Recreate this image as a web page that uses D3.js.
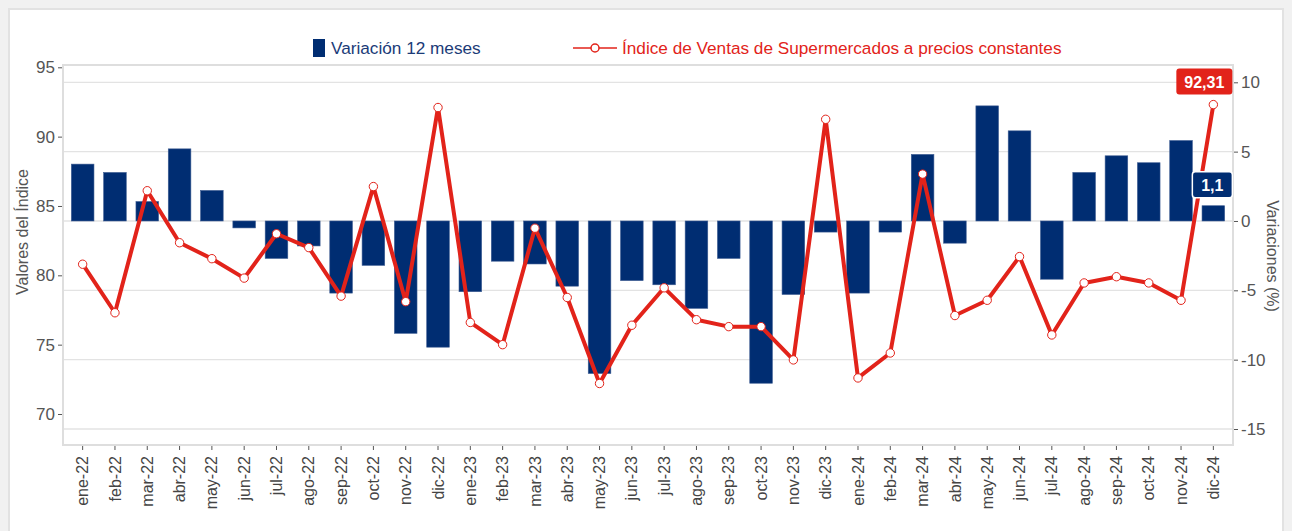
<!DOCTYPE html>
<html>
<head>
<meta charset="utf-8">
<script src="https://cdn.jsdelivr.net/npm/d3@7"></script>
<style>
  body { margin: 0; background: #f1f1f1; }
  svg { display: block; font-family: "Liberation Sans", Arial, sans-serif; }
  .axis text { fill: #555; font-size: 17px; }
  .axis path { display: none; }
  .axis line { stroke: #555; }
  .xaxis text { fill: #444; font-size: 16px; }
</style>
</head>
<body>
<svg width="1292" height="531"></svg>
<script>
var months = ["ene-22","feb-22","mar-22","abr-22","may-22","jun-22","jul-22","ago-22","sep-22","oct-22","nov-22","dic-22",
  "ene-23","feb-23","mar-23","abr-23","may-23","jun-23","jul-23","ago-23","sep-23","oct-23","nov-23","dic-23",
  "ene-24","feb-24","mar-24","abr-24","may-24","jun-24","jul-24","ago-24","sep-24","oct-24","nov-24","dic-24"];

// variación 12 meses (%)
var variacion = [4.1, 3.5, 1.4, 5.2, 2.2, -0.5, -2.7, -1.8, -5.2, -3.2, -8.1, -9.1,
  -5.1, -2.9, -3.1, -4.7, -11.0, -4.3, -4.6, -6.3, -2.7, -11.7, -5.3, -0.8,
  -5.2, -0.8, 4.8, -1.6, 8.3, 6.5, -4.2, 3.5, 4.7, 4.2, 5.8, 1.1];

// índice de ventas a precios constantes
var indice = [80.8, 77.3, 86.1, 82.35, 81.2, 79.8, 83.0, 82.0, 78.5, 86.4, 78.1, 92.1,
  76.6, 75.0, 83.4, 78.4, 72.2, 76.4, 79.1, 76.8, 76.3, 76.3, 73.9, 91.25,
  72.6, 74.4, 87.3, 77.1, 78.2, 81.35, 75.7, 79.45, 79.9, 79.45, 78.2, 92.31];

var leftTicks = [70, 75, 80, 85, 90, 95];
var rightTicks = [-15, -10, -5, 0, 5, 10];

var svg = d3.select("svg");
var blue = "#002d72";
var red = "#e2231a";

// panel blanco
svg.append("rect")
    .attr("x", 9).attr("y", 9)
    .attr("width", 1274).attr("height", 540)
    .attr("fill", "#fff")
    .attr("stroke", "#e2e2e2")
    .attr("stroke-width", 2);

var plot = { left: 63, right: 1233, top: 65, bottom: 445 };

var x = d3.scaleBand().domain(months).range([66.5, 1229.5])
    .paddingInner(0.3).paddingOuter(0.15);
var yLeft = d3.scaleLinear().domain([70, 95]).range([414, 67.3]);
var yRight = d3.scaleLinear().domain([-15, 10]).range([429, 82.3]);

// grid
svg.append("g").selectAll("line")
    .data(rightTicks)
    .enter()
    .append("line")
    .attr("x1", plot.left).attr("x2", plot.right)
    .attr("y1", (d) => yRight(d)).attr("y2", (d) => yRight(d))
    .attr("stroke", "#e3e3e3")
    .attr("stroke-width", 1.3);

// frame
svg.append("rect")
    .attr("x", plot.left).attr("y", plot.top)
    .attr("width", plot.right - plot.left)
    .attr("height", plot.bottom - plot.top)
    .attr("fill", "none")
    .attr("stroke", "#dedede")
    .attr("stroke-width", 2);

// bars
svg.append("g").selectAll("rect")
    .data(variacion)
    .enter()
    .append("rect")
    .attr("x", (d, i) => x(months[i]))
    .attr("y", (d) => yRight(Math.max(0, d)))
    .attr("width", x.bandwidth())
    .attr("height", (d) => Math.abs(yRight(d) - yRight(0)))
    .attr("fill", blue)
    .attr("stroke", "#3d5c92")
    .attr("stroke-width", 0.6);

// line
var line = d3.line()
    .x((d, i) => x(months[i]) + x.bandwidth() / 2)
    .y((d) => yLeft(d));

svg.append("path")
    .datum(indice)
    .attr("d", line)
    .attr("fill", "none")
    .attr("stroke", red)
    .attr("stroke-width", 4)
    .attr("stroke-linejoin", "round");

svg.append("g").selectAll("circle")
    .data(indice)
    .enter()
    .append("circle")
    .attr("cx", (d, i) => x(months[i]) + x.bandwidth() / 2)
    .attr("cy", (d) => yLeft(d))
    .attr("r", 4.2)
    .attr("fill", "#fff")
    .attr("stroke", red)
    .attr("stroke-width", 1);

// axes
svg.append("g")
    .attr("class", "axis")
    .attr("transform", "translate(" + (plot.left - 1) + ",0)")
    .call(d3.axisLeft(yLeft).tickValues(leftTicks).tickSize(4).tickPadding(3));

svg.append("g")
    .attr("class", "axis")
    .attr("transform", "translate(" + (plot.right + 1) + ",0)")
    .call(d3.axisRight(yRight).tickValues(rightTicks).tickSize(4).tickPadding(3)
        .tickFormat((d) => d < 0 ? "-" + Math.abs(d) : d));

var xAxis = svg.append("g")
    .attr("class", "axis xaxis")
    .attr("transform", "translate(0," + (plot.bottom + 1) + ")")
    .call(d3.axisBottom(x).tickSize(4));

xAxis.selectAll("text")
    .attr("transform", "rotate(-90)")
    .attr("text-anchor", "end")
    .attr("x", -10)
    .attr("y", 0)
    .attr("dy", "0.35em");

// axis titles
svg.append("text")
    .attr("transform", "translate(28,232) rotate(-90)")
    .attr("text-anchor", "middle")
    .attr("fill", "#555")
    .attr("font-size", 16)
    .text("Valores del Índice");

svg.append("text")
    .attr("transform", "translate(1267,256) rotate(90)")
    .attr("text-anchor", "middle")
    .attr("fill", "#555")
    .attr("font-size", 16)
    .text("Variaciones (%)");

// legend
svg.append("rect")
    .attr("x", 313).attr("y", 39)
    .attr("width", 12).attr("height", 18)
    .attr("fill", blue);
svg.append("text")
    .attr("x", 331).attr("y", 54)
    .attr("fill", "#1b3b78")
    .attr("font-size", 17.2)
    .text("Variación 12 meses");

svg.append("line")
    .attr("x1", 573).attr("x2", 617)
    .attr("y1", 48).attr("y2", 48)
    .attr("stroke", red).attr("stroke-width", 1.5);
svg.append("circle")
    .attr("cx", 595).attr("cy", 48).attr("r", 4)
    .attr("fill", "#fff").attr("stroke", red).attr("stroke-width", 1.5);
svg.append("text")
    .attr("x", 622).attr("y", 54)
    .attr("fill", red)
    .attr("font-size", 17.2)
    .text("Índice de Ventas de Supermercados a precios constantes");

// last value labels
var lastI = months.length - 1;
var cx = x(months[lastI]) + x.bandwidth() / 2;

var g1 = svg.append("g");
g1.append("rect")
    .attr("x", cx - 37).attr("y", yLeft(indice[lastI]) - 36)
    .attr("width", 56).attr("height", 26)
    .attr("rx", 3)
    .attr("fill", red);
g1.append("text")
    .attr("x", cx - 9).attr("y", yLeft(indice[lastI]) - 17)
    .attr("text-anchor", "middle")
    .attr("fill", "#fff")
    .attr("font-size", 16)
    .attr("font-weight", "bold")
    .text(d3.format(".2f")(indice[lastI]).replace(".", ","));

var g2 = svg.append("g");
g2.append("rect")
    .attr("x", cx - 21).attr("y", yRight(variacion[lastI]) - 34)
    .attr("width", 40).attr("height", 26)
    .attr("rx", 3)
    .attr("fill", blue)
    .attr("stroke", "#fff")
    .attr("stroke-width", 1.5);
g2.append("text")
    .attr("x", cx - 1).attr("y", yRight(variacion[lastI]) - 15)
    .attr("text-anchor", "middle")
    .attr("fill", "#fff")
    .attr("font-size", 16)
    .attr("font-weight", "bold")
    .text(d3.format(".1f")(variacion[lastI]).replace(".", ","));
</script>
</body>
</html>
